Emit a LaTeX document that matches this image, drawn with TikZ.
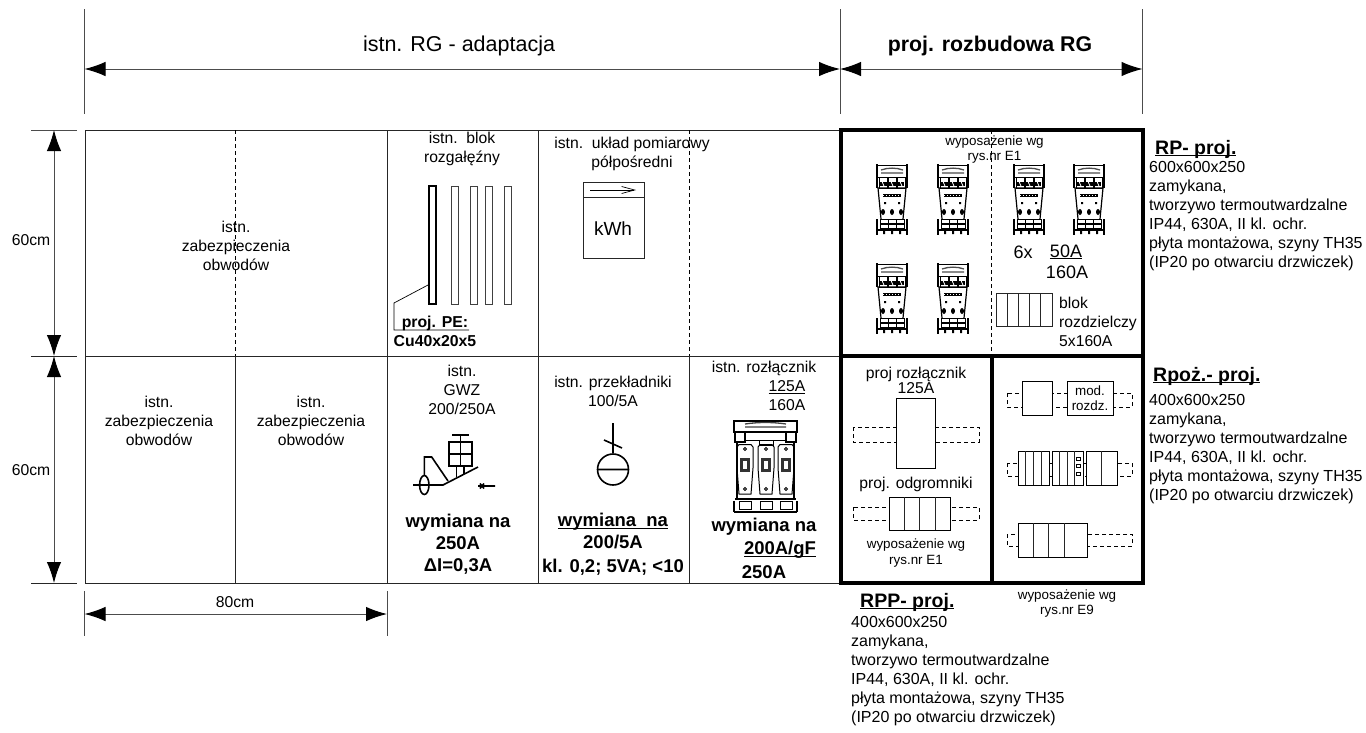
\documentclass[tikz,border=0pt]{standalone}
\usepackage{fontspec}
\setmainfont{Liberation Sans}
\usetikzlibrary{arrows.meta}
\newcommand{\ulin}[1]{\underline{\smash{#1}}\vphantom{#1}}
\tikzset{x=1pt,y=-1pt,
         txt/.style={inner sep=0,align=center,font=\fontsize{15.7}{19}\selectfont},
         small/.style={inner sep=0,align=center,font=\fontsize{13.4}{15.5}\selectfont},
         big/.style={inner sep=0,align=center,font=\fontsize{18}{20}\selectfont},
         bold/.style={inner sep=0,align=center,font=\fontsize{18.5}{22}\selectfont\bfseries},
         spec/.style={inner sep=0,align=left,anchor=west,font=\fontsize{16}{19}\selectfont},
         head/.style={inner sep=0,anchor=west,font=\fontsize{19.5}{22}\selectfont\bfseries},
         line/.style={line width=0.9pt,black!85},
         tick/.style={line width=0.9pt,black!70},
         split/.style={line width=0.9pt,dash pattern=on 4pt off 3pt},
         frame/.style={line width=4pt},
         bar/.style={line width=0.8pt,black!75},
         box/.style={line width=0.9pt,fill=white},
         stub/.style={line width=0.8pt,dash pattern=on 4pt off 3pt},
         dimline/.style={line width=1pt,black!70,{Latex[length=21pt,width=14.5pt,black]}-{Latex[length=21pt,width=14.5pt,black]}},
         contactor/.pic={
           \draw[line width=1pt] (-15,1) -- (15,1) (-15,13) -- (15,13);
           \draw[line width=1.6pt] (-15,0) -- (-15,24) (15,0) -- (15,24);
           \draw[line width=1.3pt,black!70] (-11,6) .. controls (-4,3.5) and (4,3.5) .. (11,6) (-11,9) -- (11,9);
           \draw[line width=1pt] (-13,13) rectangle (-5,24) (-4,13) rectangle (4,24) (5,13) rectangle (13,24);
           \fill (-12,18) rectangle (12,21.5);
           \draw[white,line width=0.8pt] (-10,17.5) -- (-8,22) (-1,17.5) -- (1,22) (8,17.5) -- (10,22);
           \draw[line width=1.2pt] (-14,24) -- (14,24) -- (11,55) (-14,24) -- (-11,55);
           \fill (-9,30) rectangle (9,33);
           \draw[white,line width=0.7pt,dash pattern=on 1pt off 2pt] (-9,31.5) -- (9,31.5);
           \fill (-8,38) rectangle (-6,40) (6,38) rectangle (8,40);
           \fill (-9,48) ellipse (2 and 3) (0,48) ellipse (2 and 3) (9,48) ellipse (2 and 3);
           \draw[line width=1pt] (-12,55) rectangle (-4,64) (-4,55) rectangle (4,64) (4,55) rectangle (12,64);
           \fill (-12,59) rectangle (12,61);
           \draw[line width=2pt] (-15,65.5) -- (15,65.5);
           \draw[line width=1.6pt] (-15,55) -- (-15,71) (15,55) -- (15,71);
           \fill (-9,66) rectangle (-7,70) (-1,66) rectangle (1,70) (7,66) rectangle (9,70);
         },
         breaker/.pic={
           \draw[line width=1.1pt] (1,3) rectangle (64,14);
           \draw[line width=1.3pt,black!75] (12,6) .. controls (25,4) and (40,4) .. (53,6) (12,9) -- (53,9);
           \draw[line width=1.5pt] (1,3) -- (1,12) (64,3) -- (64,12);
           \draw[line width=1.5pt] (2,14) -- (2,24) -- (12,24) -- (12,14) (63,14) -- (63,24) -- (53,24) -- (53,14);
           \draw[line width=1.5pt] (4,24) -- (4,81) (61,24) -- (61,81);
           \draw[line width=1pt] (12,22) -- (53,22);
           \draw[line width=1pt,fill=white] (26,22) rectangle (40,27);
           \foreach \px in {12,33,53}{
             \draw[line width=1pt] (\px-8,29) -- (\px-6,26.5) -- (\px+6,26.5) -- (\px+8,29) -- (\px+8,50) -- (\px+6,76) -- (\px-6,76) -- (\px-8,50) -- cycle;
             \fill[black!80] (\px-5,40) rectangle (\px+5,54);
             \fill[white] (\px-2,43) rectangle (\px+2,51);
             \draw[line width=0.9pt] (\px,31) circle (1.5) (\px,71) circle (1.5);
             \draw[line width=0.9pt] (\px-6,83) rectangle (\px+6,91);
           }
           \draw[line width=1.2pt] (2,81) -- (63,81);
           \draw[line width=2pt] (1,94) -- (64,94) (1,83) -- (1,94) (64,83) -- (64,94);
         }
}

\begin{document}
\begin{tikzpicture}
  \useasboundingbox (0,0) rectangle (1366,732);
  \fill[white] (0,0) rectangle (1366,732);

  \coordinate (ta) at (84.5,69);
  \coordinate (tb) at (840,69);
  \coordinate (tc) at (1142.5,69);
  \coordinate (ha) at (54,130);
  \coordinate (hb) at (54,356);
  \coordinate (hc) at (54,583);
  \coordinate (wa) at (84.5,614);
  \coordinate (wb) at (387,614);

  % wymiary
  \draw[tick] (84.5,9) -- (84.5,114) (840,9) -- (840,114) (1142.5,9) -- (1142.5,114);
  \draw[tick] (31,130) -- (77,130);
  \draw[line] (31,356) -- (77,356) (31,583) -- (77,583);
  \draw[tick] (84.5,591) -- (84.5,636) (387,591) -- (387,636);
  \draw[dimline] (ta) -- (tb);
  \draw[dimline] (tb) -- (tc);
  \draw[dimline] (ha) -- (hb);
  \draw[dimline] (hb) -- (hc);
  \draw[dimline] (wa) -- (wb);

  \node[inner sep=0,font=\fontsize{21.5}{24}\selectfont] (ttop) at (459,46) {istn. RG - adaptacja};
  \node[inner sep=0,font=\fontsize{21.3}{24}\selectfont\bfseries] (tnew) at (990,46) {proj. rozbudowa RG};
  \node[txt] (dh1) at (31,240) {60cm};
  \node[txt] (dh2) at (31,470) {60cm};
  \node[txt] (dw) at (235,602) {80cm};

  % siatka
  \draw[line] (85,130) -- (840,130) (85,356) -- (840,356) (85,583) -- (840,583);
  \draw[line] (85,130) -- (85,583) (387,130) -- (387,583) (538,130) -- (538,583);
  \draw[line] (235.5,356) -- (235.5,583) (689,356) -- (689,583);
  \draw[split] (235.5,130) -- (235.5,356) (689,130) -- (689,356);
  \draw[split] (991.5,130) -- (991.5,356);
  \draw[frame] (841,130) rectangle (1143,583);
  \draw[frame] (841,355.5) -- (1143,355.5) (992,355.5) -- (992,583);

  \node[txt] (f1) at (236,246) {istn.\\zabezpieczenia\\obwodów};
  \node[txt] (f2) at (159,421) {istn.\\zabezpieczenia\\obwodów};
  \node[txt] (f3) at (311,421) {istn.\\zabezpieczenia\\obwodów};

  % blok
  \node[txt] (bl) at (462,148.5) {istn.~~blok\\rozgałęźny};
  \draw[line width=2pt] (428.5,186) rectangle (435.5,304);
  \foreach \bx in {451,470,485,504}
    \draw[bar] (\bx,186) rectangle (\bx+7.5,304);
  \draw[line width=0.7pt] (428,285) -- (394,303) -- (394,330) -- (469,330);
  \node[inner sep=0,align=center,font=\fontsize{15.8}{19}\selectfont\bfseries] (pe) at (435,331) {proj. PE:\\Cu40x20x5};

  % licznik
  \node[txt] (lz) at (632,153.5) {istn.~~układ pomiarowy\\półpośredni};
  \draw[line] (583,182) rectangle (644,258) (583,197) -- (644,197);
  \draw[line width=0.7pt,-{Straight Barb[length=13pt,width=7pt]}] (590,190) -- (636,190);
  \node[inner sep=0,font=\fontsize{19}{22}\selectfont] (kwh) at (613,229) {kWh};

  % GWZ
  \node[txt] (gw) at (462,390) {istn.\\GWZ\\200/250A};
  \draw[line width=1.6pt] (413,485) -- (443,485) -- (478,467);
  \draw[line width=1.6pt] (424.3,485) ellipse (4.7 and 9.5);
  \draw[line width=1.6pt] (424.3,475) -- (424.3,457) -- (431.7,457) -- (448,481);
  \draw[line width=1.6pt] (449,442) rectangle (472,466) (449,454) -- (472,454) (460.5,442) -- (460.5,466);
  \draw[line width=1.6pt] (452,435) -- (469,435) (460.5,435) -- (460.5,442);
  \draw[line width=1.6pt] (456.5,466) -- (456.5,477) (464,466) -- (464,474);
  \draw[line width=1.6pt] (478,486) -- (495,486) (480,483.5) -- (484,488.5) (484,483.5) -- (480,488.5);
  \node[bold] (gr) at (458,544.5) {wymiana na\\250A\\ΔI=0,3A};

  % przekladniki
  \node[txt] (pr) at (613,391) {istn. przekładniki\\100/5A};
  \draw[line width=1.6pt] (613,423) -- (613,453) (604,440) -- (622,448);
  \draw[line width=1.6pt] (613,469.5) circle (15.5) (597.5,469.5) -- (628.5,469.5);
  \node[bold] (pb) at (613,522) {\ulin{wymiana~~na}};
  \node[inner sep=0,align=center,font=\fontsize{18.5}{24}\selectfont\bfseries] (pc) at (613,555) {200/5A\\kl. 0,2; 5VA; <10};

  % rozlacznik
  \node[txt] (rz) at (764,368) {istn. rozłącznik};
  \node[txt] (rz1) at (787,387) {\ulin{125A}};
  \node[txt] (rz2) at (787,405) {160A};
  \pic at (733,418) {breaker};
  \node[bold] (rb) at (764,527) {wymiana na};
  \node[bold] (rb1) at (780,550) {\ulin{200A/gF}};
  \node[bold] (rb2) at (764,572) {250A};

  % RP
  \node[small] (w1) at (994.5,149.5) {wyposażenie wg\\rys.nr E1};
  \foreach \cx/\cy in {892/164,953/164,1029/164,1089/164,892/263,953/263}
    \pic at (\cx,\cy) {contactor};
  \node[big] (n6) at (1023,252) {6x};
  \node[big] (n50) at (1066,252) {\ulin{50A}};
  \node[big] (n160) at (1067,272) {160A};
  \draw[line] (996,293) rectangle (1052,326);
  \foreach \dx in {1007.3,1018.5,1029.7,1040.9}
    \draw[line] (\dx,293) -- (\dx,326);
  \node[inner sep=0,align=left,anchor=west,font=\fontsize{15.7}{19}\selectfont] (bk) at (1059,322) {blok\\rozdzielczy\\5x160A};

  % RPP
  \node[txt,font=\fontsize{15.7}{14}\selectfont] (pr1) at (916,380) {proj rozłącznik\\125A};
  \draw[stub] (853,427) rectangle (979,442);
  \draw[box] (896,398) rectangle (935,468);
  \node[txt] (od) at (916,484) {proj. odgromniki};
  \draw[stub] (853,507) rectangle (979,520);
  \draw[box] (889,497) rectangle (950,530);
  \foreach \dx in {904.3,919.7,935}
    \draw[line] (\dx,497) -- (\dx,530);
  \node[small] (w2) at (916,553) {wyposażenie wg\\rys.nr E1};

  % Rpoz
  \draw[stub] (1007,393) rectangle (1132,407);
  \draw[box] (1022,381) rectangle (1052,415);
  \draw[box] (1067,381) rectangle (1113,415);
  \node[small] (md) at (1090,398) {mod.\\rozdz.};
  \draw[stub] (1007,463) rectangle (1132,476);
  \draw[box] (1018,451) rectangle (1049,485);
  \foreach \dx in {1025,1033,1041}
    \draw[line] (\dx,451) -- (\dx,485);
  \draw[box] (1052,451) rectangle (1083,485);
  \foreach \dx in {1059,1067,1074}
    \draw[line] (\dx,451) -- (\dx,485);
  \foreach \dy in {457,464,472}
    \draw[line width=0.8pt] (1076,\dy) rectangle (1080,\dy+3);
  \draw[box] (1086,451) rectangle (1117,485);
  \draw[line] (1101,451) -- (1101,485);
  \draw[stub] (1007,534) rectangle (1132,546);
  \draw[box] (1018,523) rectangle (1087,557);
  \foreach \dx in {1033,1048,1064}
    \draw[line] (\dx,523) -- (\dx,557);
  \node[small] (w3) at (1067,603.5) {wyposażenie wg\\rys.nr E9};

  % opisy
  \node[head] (hp) at (1155,149) {\ulin{RP- proj.}};
  \node[spec] (sp) at (1149,216.5) {600x600x250\\zamykana,\\tworzywo termoutwardzalne\\IP44, 630A, II kl. ochr.\\płyta montażowa, szyny TH35\\(IP20 po otwarciu drzwiczek)};
  \node[head] (hq) at (1153,376) {\ulin{Rpoż.- proj.}};
  \node[spec] (sq) at (1149,449.5) {400x600x250\\zamykana,\\tworzywo termoutwardzalne\\IP44, 630A, II kl. ochr.\\płyta montażowa, szyny TH35\\(IP20 po otwarciu drzwiczek)};
  \node[head] (hr) at (860,602) {\ulin{RPP- proj.}};
  \node[spec] (sr) at (851,671.5) {400x600x250\\zamykana,\\tworzywo termoutwardzalne\\IP44, 630A, II kl. ochr.\\płyta montażowa, szyny TH35\\(IP20 po otwarciu drzwiczek)};
\end{tikzpicture}
\end{document}
